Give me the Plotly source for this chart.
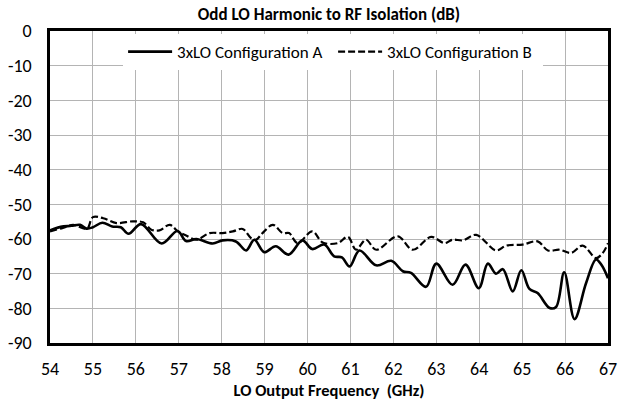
import plotly.graph_objects as go

# 3xLO configuration A: frequency (GHz) and isolation (dB)
freq_a = [54.0, 54.25, 54.5, 54.7, 54.85, 55.0, 55.22, 55.45, 55.65, 55.83,
          56.12, 56.6, 56.97, 57.17, 57.41, 57.79, 58.02, 58.33, 58.57, 58.76,
          58.99, 59.26, 59.56, 59.88, 60.11, 60.39, 60.62, 60.8, 60.98, 61.21,
          61.6, 61.95, 62.22, 62.41, 62.76, 63.0, 63.38, 63.68, 63.99, 64.2,
          64.39, 64.55, 64.78, 64.98, 65.17, 65.36, 65.64, 65.79, 65.98, 66.22,
          66.49, 66.72, 66.85, 67.0]
iso_a = [-57.5, -56.5, -56.2, -55.9, -57.0, -56.6, -55.3, -56.4, -56.6, -58.5,
         -55.7, -61.3, -57.7, -60.6, -60.0, -61.3, -60.4, -60.7, -63.3, -60.2,
         -63.8, -62.1, -64.5, -60.4, -62.9, -61.6, -65.0, -65.3, -67.9, -63.3,
         -67.6, -66.3, -69.3, -69.8, -73.8, -67.1, -73.2, -67.4, -74.2, -67.1,
         -70.0, -68.7, -75.1, -69.0, -74.4, -75.6, -79.9, -79.6, -69.6, -83.1,
         -72.7, -65.9, -67.5, -71.3]

# 3xLO configuration B
freq_b = [54.0, 54.3, 54.54, 54.75, 54.87, 55.0, 55.24, 55.55, 55.93, 56.17,
          56.36, 56.55, 56.79, 56.98, 57.17, 57.41, 57.72, 58.02, 58.26, 58.49,
          58.68, 58.8, 58.95, 59.19, 59.42, 59.57, 59.77, 60.11, 60.35, 60.7,
          60.94, 61.13, 61.36, 61.6, 62.1, 62.45, 62.88, 63.19, 63.38, 63.62,
          63.93, 64.39, 64.63, 65.01, 65.36, 65.6, 65.87, 66.14, 66.41, 66.72,
          66.88, 67.0]
iso_b = [-57.8, -56.8, -55.9, -56.8, -57.0, -53.7, -54.0, -55.4, -54.9, -55.2,
         -57.3, -57.5, -55.9, -57.8, -59.0, -60.2, -58.3, -58.3, -57.8, -57.1,
         -59.7, -60.2, -58.3, -55.9, -58.3, -58.3, -61.2, -57.8, -61.0, -61.2,
         -59.4, -63.1, -60.2, -63.1, -59.2, -63.1, -59.4, -61.2, -60.2, -60.4,
         -58.8, -63.3, -61.9, -61.6, -60.7, -63.3, -63.1, -64.0, -61.9, -65.5,
         -64.0, -61.2]

x_ticks = list(range(54, 68))
y_ticks = list(range(-90, 1, 10))
y_tick_text = [str(v) for v in y_ticks]

FONT = "Carlito, Calibri, Liberation Sans, sans-serif"

fig = go.Figure()
fig.add_trace(go.Scatter(
    x=freq_a, y=iso_a, mode="lines", name="3xLO Configuration A",
    line=dict(color="black", width=2.6, shape="spline", smoothing=1.0),
))
fig.add_trace(go.Scatter(
    x=freq_b, y=iso_b, mode="lines", name="3xLO Configuration B",
    line=dict(color="black", width=2.2, dash="7px,3px", shape="spline", smoothing=1.0),
))

axis_common = dict(
    showgrid=True, gridcolor="#b4b4b4", gridwidth=1,
    showline=True, linecolor="black", linewidth=2.5, mirror=True,
    ticks="", zeroline=False, automargin=False,
    tickfont=dict(family=FONT, size=18, color="black"),
)

fig.update_layout(
    width=630, height=401,
    margin=dict(l=50, r=22, t=31, b=58),
    paper_bgcolor="white", plot_bgcolor="white",
    title=dict(text="<b>Odd LO Harmonic to RF Isolation (dB)</b>",
               x=(50 + 608) / 2 / 630, xanchor="center", y=0.965, yanchor="middle",
               font=dict(family=FONT, size=17, color="black")),
    xaxis=dict(range=[54, 67], tickvals=x_ticks, ticklabelstandoff=8, **axis_common,
               title=dict(text="<b>LO Output Frequency  (GHz)</b>",
                          font=dict(family=FONT, size=16.5, color="black"), standoff=0)),
    yaxis=dict(range=[-90, 0], tickvals=y_ticks, ticktext=y_tick_text,
               ticklabelstandoff=12, **axis_common),
    legend=dict(orientation="h", x=0.131, xanchor="left", y=0.99, yanchor="top",
                bgcolor="white", font=dict(family=FONT, size=17, color="black"),
                itemwidth=44, tracegroupgap=0, entrywidth=151),
    showlegend=True,
)

fig.write_html("out.html")
